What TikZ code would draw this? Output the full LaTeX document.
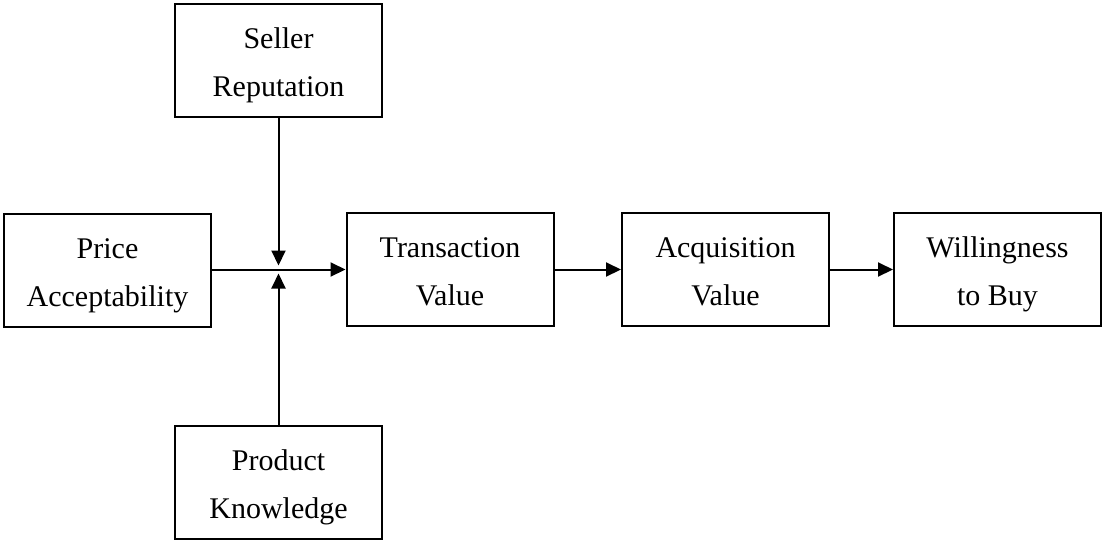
\documentclass[tikz,border=0pt]{standalone}
\usepackage{fontspec}
\setmainfont{Liberation Serif}
\usetikzlibrary{arrows.meta}
\begin{document}
\begin{tikzpicture}[x=1pt,y=-1pt,
  box/.style={draw,line width=2pt,minimum width=207pt,minimum height=113pt,inner sep=0pt,
    align=center,text height=80pt,text depth=8pt,font=\fontsize{30}{48}\selectfont},
  conn/.style={line width=2pt,-{Triangle[length=15pt,width=14pt]}}]
\useasboundingbox (0,0) rectangle (1102,542);
\node[box] (seller) at (278.5,60) {Seller\\Reputation};
\node[box] (price) at (107.5,270) {Price\\Acceptability};
\node[box] (trans) at (450,269.5) {Transaction\\Value};
\node[box] (acq) at (725.5,269.5) {Acquisition\\Value};
\node[box] (will) at (997.5,269.5) {Willingness\\to Buy};
\node[box] (prod) at (278.5,482) {Product\\Knowledge};
\coordinate (j) at (278.5,269.5);
\draw[conn] (price.east |- j) -- (trans.west |- j);
\draw[conn,shorten >=4pt] (seller.south) -- (j);
\draw[conn,shorten >=4pt] (prod.north) -- (j);
\draw[conn] (trans.east) -- (acq.west);
\draw[conn] (acq.east) -- (will.west);
\end{tikzpicture}
\end{document}
